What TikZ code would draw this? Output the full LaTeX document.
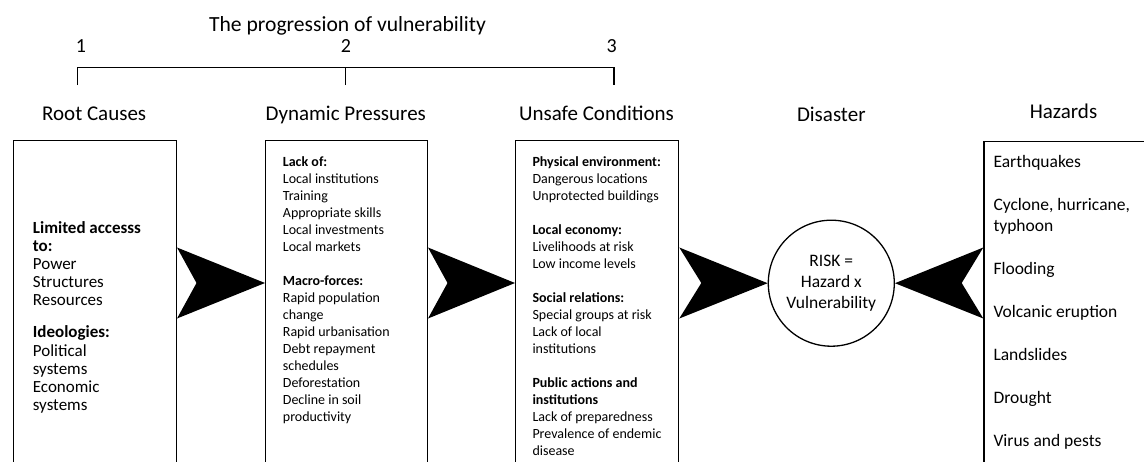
\documentclass[tikz,border=0pt]{standalone}
\usepackage{fontspec}
\setmainfont{Carlito}
\usetikzlibrary{calc}
\begin{document}
\begin{tikzpicture}[x=1pt,y=-1pt,
  hdr/.style={anchor=base, inner sep=0pt, font=\fontsize{21}{25}\selectfont},
  numlbl/.style={anchor=base, inner sep=0pt, font=\fontsize{20}{24}\selectfont},
  boxstyle/.style={draw, line width=1.3pt, inner sep=0pt, anchor=north west, minimum height=340pt},
  txt/.style={anchor=north west, align=left, inner sep=0pt},
  arrowfill/.style={fill=black},
  bracket/.style={line width=1.3pt}]
\useasboundingbox (0,0) rectangle (1144,461);
\clip (0,0) rectangle (1144,461);
\fill[white] (0,0) rectangle (1144,461);

% title and scale
\node[hdr, font=\fontsize{21.6}{25}\selectfont] (title) at (347.5,31.5) {The progression of vulnerability};
\node[numlbl] (n1) at (81,52) {1};
\node[numlbl] (n2) at (346,52) {2};
\node[numlbl] (n3) at (611.7,52) {3};
\coordinate (b1) at (77.3,85);
\coordinate (b2) at (345.7,85);
\coordinate (b3) at (614,85);
\draw[bracket] (b1) -- (b1 |- 0,67.3) -- (b3 |- 0,67.3) -- (b3);
\draw[bracket] (b2) -- (b2 |- 0,67.3);

% headers
\node[hdr] (h1) at (94.2,120.5) {Root Causes};
\node[hdr] (h2) at (345.8,120.5) {Dynamic Pressures};
\node[hdr] (h3) at (596.5,120.5) {Unsafe Conditions};
\node[hdr] (h4) at (831.3,121) {Disaster};
\node[hdr] (h5) at (1063.5,118.5) {Hazards};

% boxes
\node[boxstyle, minimum width=163pt] (root) at (12.7,140) {};
\node[boxstyle, minimum width=161.7pt] (dyn) at (265,140) {};
\node[boxstyle, minimum width=163pt] (unsafe) at (515,140) {};
\node[boxstyle, minimum width=170pt] (haz) at (983.3,140.7) {};

% circle
\node[circle, draw, line width=1.3pt, minimum size=126pt, inner sep=0pt, align=center,
      font=\fontsize{17.5}{21}\selectfont] (risk) at (831.3,283.2) {RISK =\\Hazard x\\Vulnerability};

% arrows
\fill[arrowfill] (root.east |- 0,247.5) -- (dyn.west |- 0,283) -- (root.east |- 0,318.5)
  -- ($(root.east |- 0,283)+(19.5,0)$) -- cycle;
\fill[arrowfill] (dyn.east |- 0,247.5) -- (unsafe.west |- 0,283) -- (dyn.east |- 0,318.5)
  -- ($(dyn.east |- 0,283)+(19.5,0)$) -- cycle;
\fill[arrowfill] (unsafe.east |- 0,247.5) -- (risk.west) -- (unsafe.east |- 0,318.5)
  -- ($(unsafe.east |- 0,283)+(22,0)$) -- cycle;
\fill[arrowfill] (haz.west |- 0,247.5) -- (risk.east) -- (haz.west |- 0,318.5)
  -- ($(haz.west |- 0,283)+(-21.6,0)$) -- cycle;

% box texts
\node[txt, font=\fontsize{17}{18.2}\selectfont] (t1) at (32.7,221)
  {\textbf{Limited accesss}\\\textbf{to:}\\Power\\Structures\\Resources\\[13.7pt]\textbf{Ideologies:}\\Political\\systems\\Economic\\systems};
\node[txt, font=\fontsize{14}{17}\selectfont] (t2) at (282.7,156.7)
  {\textbf{Lack of:}\\Local institutions\\Training\\Appropriate skills\\Local investments\\Local markets\\[17pt]\textbf{Macro-forces:}\\Rapid population\\change\\Rapid urbanisation\\Debt repayment\\schedules\\Deforestation\\Decline in soil\\productivity};
\node[txt, font=\fontsize{14}{17}\selectfont] (t3) at (532.3,156.7)
  {\textbf{Physical environment:}\\Dangerous locations\\Unprotected buildings\\[17pt]\textbf{Local economy:}\\Livelihoods at risk\\Low income levels\\[17pt]\textbf{Social relations:}\\Special groups at risk\\Lack of local\\institutions\\[17pt]\textbf{Public actions and}\\\textbf{institutions}\\Lack of preparedness\\Prevalence of endemic\\disease};
\node[txt, font=\fontsize{17.5}{20.7}\selectfont] (t4) at (993.3,155)
  {Earthquakes\\[22.3pt]Cyclone, hurricane,\\typhoon\\[22.3pt]Flooding\\[22.3pt]Volcanic eruption\\[22.3pt]Landslides\\[22.3pt]Drought\\[22.3pt]Virus and pests};
\end{tikzpicture}
\end{document}
